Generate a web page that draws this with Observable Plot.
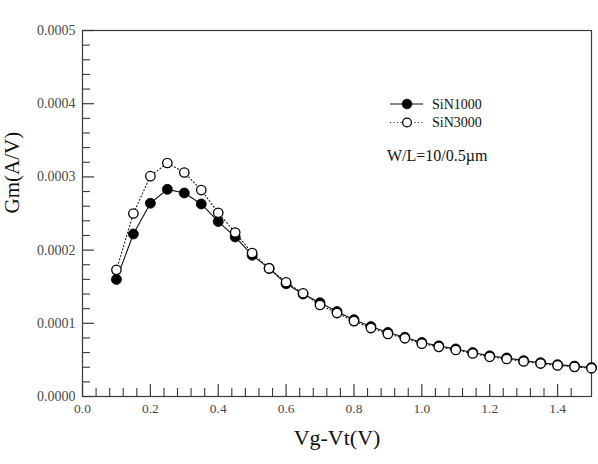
<!DOCTYPE html>
<html>
<head>
<meta charset="utf-8">
<script src="https://cdn.jsdelivr.net/npm/d3@7"></script>
<script src="https://cdn.jsdelivr.net/npm/@observablehq/plot@0.6"></script>
<style>
  body { margin: 0; background: #fff; }
  #chart svg { display: block; }
</style>
</head>
<body>
<div id="chart"></div>
<script>
// Gate overdrive (V)
const vg = [0.10, 0.15, 0.20, 0.25, 0.30, 0.35, 0.40, 0.45, 0.50, 0.55,
            0.60, 0.65, 0.70, 0.75, 0.80, 0.85, 0.90, 0.95, 1.00, 1.05,
            1.10, 1.15, 1.20, 1.25, 1.30, 1.35, 1.40, 1.45, 1.50];

// Transconductance Gm (A/V), SiN 1000 Å
const sin1000 = [0.000160, 0.000222, 0.000264, 0.000283, 0.000278, 0.000263, 0.000239, 0.000218, 0.000193, 0.000175,
                 0.000154, 0.000140, 0.000128, 0.000116, 0.000105, 0.0000955, 0.0000875, 0.0000810, 0.0000738, 0.0000692,
                 0.0000650, 0.0000600, 0.0000555, 0.0000527, 0.0000490, 0.0000462, 0.0000435, 0.0000415, 0.0000395];

// Transconductance Gm (A/V), SiN 3000 Å
const sin3000 = [0.000173, 0.000250, 0.000301, 0.000319, 0.000306, 0.000282, 0.000251, 0.000224, 0.000196, 0.000175,
                 0.000156, 0.000141, 0.000125, 0.000114, 0.000103, 0.0000935, 0.0000855, 0.0000795, 0.0000722, 0.0000678,
                 0.0000636, 0.0000588, 0.0000542, 0.0000513, 0.0000478, 0.0000450, 0.0000425, 0.0000405, 0.0000385];

const seriesNames = ["SiN1000", "SiN3000"];
const deviceNote = "W/L=10/0.5\u00b5m";
const xTitle = "Vg-Vt(V)";
const yTitle = "Gm(A/V)";

// Tick positions
const xMajor = [0, 0.2, 0.4, 0.6, 0.8, 1.0, 1.2, 1.4];
const xMinor = d3.range(0, 37).map(i => +(i * 0.04).toFixed(2)).filter(v => Math.abs(v / 0.2 - Math.round(v / 0.2)) > 1e-6);
const yMajor = [0, 0.0001, 0.0002, 0.0003, 0.0004, 0.0005];
const yMinor = d3.range(0, 26).map(i => +(i * 0.00002).toFixed(6)).filter(v => Math.abs(v / 0.0001 - Math.round(v / 0.0001)) > 1e-6);

const rows = vg.map((v, i) => ({v, a: sin1000[i], b: sin3000[i]}));

const serif = "'Liberation Serif', 'Times New Roman', Times, serif";
const ink = "#3a3a3a";
const labelInk = "#4a4a4a";

const plot = Plot.plot({
  width: 598,
  height: 464,
  marginLeft: 82,
  marginTop: 30,
  marginRight: 7,
  marginBottom: 68,
  style: {fontFamily: serif, background: "#fff", color: ink},
  x: {domain: [0, 1.5]},
  y: {domain: [0, 0.0005]},
  marks: [
    // inward ticks
    Plot.axisY(yMajor, {tickSize: -12, tickFormat: () => "", label: null, stroke: ink, strokeWidth: 1.2}),
    Plot.axisY(yMinor, {tickSize: -8, tickFormat: () => "", label: null, stroke: ink, strokeWidth: 1.1}),
    Plot.axisX(xMajor, {tickSize: -12, tickFormat: () => "", label: null, stroke: ink, strokeWidth: 1.2}),
    Plot.axisX(xMinor, {tickSize: -8, tickFormat: () => "", label: null, stroke: ink, strokeWidth: 1.1}),
    // tick labels
    Plot.text(yMajor, {y: d => d, text: d3.format(".4f"), frameAnchor: "left", dx: -7, textAnchor: "end",
                       fontSize: 14, fontFamily: serif, fill: labelInk}),
    Plot.text(xMajor, {x: d => d, text: d3.format(".1f"), frameAnchor: "bottom", dy: 16.5,
                       fontSize: 13.5, fontFamily: serif, fill: labelInk}),
    Plot.frame({stroke: ink, strokeWidth: 1.2}),
    // series
    Plot.line(rows, {x: "v", y: "a", stroke: "#111", strokeWidth: 1.1}),
    Plot.line(rows, {x: "v", y: "b", stroke: "#111", strokeWidth: 1.1, strokeDasharray: "1,2.5"}),
    Plot.dot(rows, {x: "v", y: "a", r: 5, fill: "#000", stroke: "#000", strokeWidth: 0.8}),
    Plot.dot(rows, {x: "v", y: "b", r: 4.7, fill: "#fff", stroke: "#000", strokeWidth: 1.3}),
    // axis titles
    Plot.text([yTitle], {frameAnchor: "left", dx: -70, rotate: -90, fontSize: 21, fontFamily: serif, fill: "#111"}),
    Plot.text([xTitle], {frameAnchor: "bottom", dy: 48, fontSize: 22, fontFamily: serif, fill: "#111"})
  ]
});

document.getElementById("chart").appendChild(plot);

// Legend and device annotation
const svg = d3.select(plot);
const lg = svg.append("g").attr("font-family", serif).attr("fill", "#111").attr("text-anchor", "start");
const rowsY = [104, 122.5];
seriesNames.forEach((name, i) => {
  const y = rowsY[i];
  lg.append("line").attr("x1", 390).attr("x2", 423).attr("y1", y).attr("y2", y)
    .attr("stroke", "#111").attr("stroke-width", 1.1)
    .attr("stroke-dasharray", i === 0 ? null : "1,2.5");
  lg.append("circle").attr("cx", 407).attr("cy", y).attr("r", i === 0 ? 4.8 : 4.4)
    .attr("fill", i === 0 ? "#000" : "#fff").attr("stroke", "#000").attr("stroke-width", i === 0 ? 0.8 : 1.3);
  lg.append("text").attr("x", 432).attr("y", y + 4.8).attr("font-size", 14).attr("text-anchor", "start").text(name);
});
lg.append("text").attr("x", 387).attr("y", 161).attr("font-size", 16).attr("text-anchor", "start").text(deviceNote);
</script>
</body>
</html>
